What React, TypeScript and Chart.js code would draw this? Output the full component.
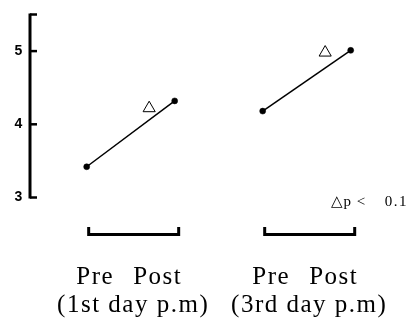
import React, { useEffect, useRef } from "react";
import { Chart, registerables } from "chart.js";

Chart.register(...registerables);

// ---- data ----
const conditions = ["Pre", "Post"];
const sessions = ["(1st day p.m)", "(3rd day p.m)"];
const day1X = [0, 1];
const day3X = [2, 3];
const day1Values = [3.42, 4.32];
const day3Values = [4.18, 5.01];
const markerX = [0.71, 2.71];
const markerY = [4.22, 4.98];
const yTicks = [3, 4, 5];
const yMin = 3;
const yMax = 5.5;
const xMin = -0.644;
const xMax = 3.6;
const noteSymbol = "△p <";
const noteValue = "0.1";

const groups = [day1X, day3X];

const axisPlugin = {
  id: "customAxes",
  afterDraw(chart: any) {
    const ctx = chart.ctx as CanvasRenderingContext2D;
    const xs = chart.scales.x;
    const ys = chart.scales.y;
    const ax = chart.chartArea.left;
    ctx.save();
    ctx.strokeStyle = "#000";
    ctx.fillStyle = "#000";
    // y axis line
    ctx.lineWidth = 3;
    ctx.beginPath();
    ctx.moveTo(ax, ys.getPixelForValue(yMax) - 1);
    ctx.lineTo(ax, ys.getPixelForValue(yMin) + 1);
    ctx.stroke();
    // inward ticks
    ctx.lineWidth = 2.5;
    [...yTicks, yMax].forEach((v) => {
      const py = ys.getPixelForValue(v);
      ctx.beginPath();
      ctx.moveTo(ax, py);
      ctx.lineTo(ax + 7, py);
      ctx.stroke();
    });
    // tick labels
    ctx.font = 'bold 14px "Liberation Sans Narrow", "Liberation Sans", sans-serif';
    ctx.textAlign = "center";
    ctx.textBaseline = "middle";
    yTicks.forEach((v) => {
      ctx.fillText(String(v), ax - 11.5, ys.getPixelForValue(v));
    });

    // brackets and labels below
    groups.forEach((g, i) => {
      const pPre = xs.getPixelForValue(g[0]);
      const pPost = xs.getPixelForValue(g[1]);
      ctx.lineWidth = 3;
      ctx.lineJoin = "miter";
      ctx.beginPath();
      ctx.moveTo(pPre + 2, 227);
      ctx.lineTo(pPre + 2, 234.5);
      ctx.lineTo(pPost + 4, 234.5);
      ctx.lineTo(pPost + 4, 227);
      ctx.stroke();

      ctx.font = '25px "Liberation Serif", "Times New Roman", serif';
      (ctx as any).letterSpacing = "1.5px";
      ctx.textAlign = "center";
      ctx.textBaseline = "alphabetic";
      ctx.fillText(conditions[0], pPre + 8.5, 284);
      ctx.fillText(conditions[1], pPost - 17, 284);
      ctx.fillText(sessions[i], (pPre + pPost) / 2 + 2.5, 311.5);
      (ctx as any).letterSpacing = "0px";
    });

    // note
    ctx.font = '15px "Liberation Serif", "DejaVu Serif", serif';
    ctx.textBaseline = "alphabetic";
    ctx.textAlign = "left";
    (ctx as any).letterSpacing = "1px";
    ctx.fillText(noteSymbol, 331, 206);
    (ctx as any).letterSpacing = "1.5px";
    ctx.textAlign = "right";
    ctx.fillText(noteValue, 408, 206);
    (ctx as any).letterSpacing = "0px";
    ctx.restore();
  },
};

export default function App() {
  const ref = useRef<HTMLCanvasElement | null>(null);
  useEffect(() => {
    if (!ref.current) return;
    const lineStyle = {
      borderColor: "#000",
      borderWidth: 1.5,
      pointRadius: 3,
      pointBackgroundColor: "#000",
      pointBorderColor: "#000",
      pointBorderWidth: 0.5,
      showLine: true,
    };
    const chart = new Chart(ref.current, {
      type: "scatter",
      data: {
        datasets: [
          {
            label: "1st day",
            data: day1X.map((x, i) => ({ x, y: day1Values[i] })),
            ...lineStyle,
          },
          {
            label: "3rd day",
            data: day3X.map((x, i) => ({ x, y: day3Values[i] })),
            ...lineStyle,
          },
          {
            label: "significance",
            data: markerX.map((x, i) => ({ x, y: markerY[i] })),
            pointStyle: "triangle",
            pointRadius: 7,
            borderWidth: 1,
            borderColor: "#000",
            backgroundColor: "rgba(0,0,0,0)",
            showLine: false,
          } as any,
        ],
      },
      options: {
        animation: false,
        responsive: false,
        layout: { padding: { left: 30, right: 11.5, top: 14.5, bottom: 122.5 } },
        plugins: { legend: { display: false }, tooltip: { enabled: false } },
        scales: {
          x: { type: "linear", min: xMin, max: xMax, display: false },
          y: { type: "linear", min: yMin, max: yMax, display: false },
        },
      },
      plugins: [axisPlugin],
    });
    return () => chart.destroy();
  }, []);
  return (
    <div style={{ position: "absolute", left: 0, top: 0, width: 415, height: 320, background: "#fff" }}>
      <canvas ref={ref} width={415} height={320} />
    </div>
  );
}
